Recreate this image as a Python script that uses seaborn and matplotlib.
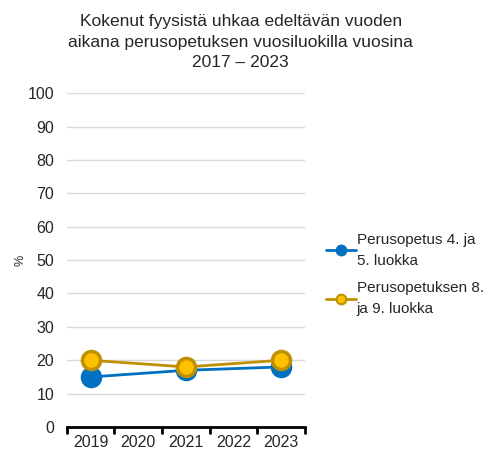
import numpy as np
import pandas as pd
import seaborn as sns
import matplotlib.pyplot as plt
from matplotlib.lines import Line2D

# --- data ---
years = ['2019', '2020', '2021', '2022', '2023']
data_years = ['2019', '2021', '2023']
grade_4_5 = [15, 17, 18]
grade_8_9 = [20, 18, 20]
series_names = ['Perusopetus 4. ja\n5. luokka', 'Perusopetuksen 8.\nja 9. luokka']

title = 'Kokenut fyysistä uhkaa edeltävän vuoden\naikana perusopetuksen vuosiluokilla vuosina\n2017 – 2023'

sns.set_theme(style='white')
plt.rcParams['font.family'] = ['Liberation Sans', 'DejaVu Sans']

df = pd.DataFrame({
    'year': data_years * 2,
    'value': grade_4_5 + grade_8_9,
    'series': [series_names[0]] * 3 + [series_names[1]] * 3,
})
df['pos'] = df['year'].map({y: i for i, y in enumerate(years)})

fig = plt.figure(figsize=(4.91, 4.5), dpi=100)
ax = fig.add_axes([0.136, 0.051, 0.485, 0.742])

styles = {
    series_names[0]: dict(color='#0070C0', mfc='#0070C0', mec='#0070C0'),
    series_names[1]: dict(color='#BF9000', mfc='#FFC000', mec='#BF9000'),
}

for name in series_names:
    sub = df[df['series'] == name]
    st = styles[name]
    sns.lineplot(data=sub, x='pos', y='value', ax=ax, color=st['color'],
                 linewidth=2, marker='o', markersize=13,
                 markerfacecolor=st['mfc'], markeredgecolor=st['mec'],
                 markeredgewidth=2.5, legend=False)

ax.set_ylim(0, 100)
ax.set_yticks(np.arange(0, 101, 10))
ax.set_xlim(-0.5, len(years) - 0.5)
ax.set_xticks(range(len(years)))
ax.set_xticklabels(years)
ax.set_xticks(np.arange(-0.5, len(years), 1), minor=True)
ax.tick_params(axis='x', which='major', length=0, labelsize=11.5, pad=6)
ax.tick_params(axis='x', which='minor', bottom=True, length=5, width=2,
               color='black', direction='out')
ax.tick_params(axis='y', length=0, labelsize=11.5, pad=9)
ax.yaxis.grid(True, color='#D9D9D9', linewidth=1)
ax.set_axisbelow(True)
for s in ['top', 'right', 'left']:
    ax.spines[s].set_visible(False)
ax.spines['bottom'].set_color('black')
ax.spines['bottom'].set_linewidth(2)
ax.set_xlabel('')
ax.set_ylabel('%', fontsize=9)
ax.yaxis.set_label_coords(-0.17, 0.5)

fig.suptitle(title, x=0.49, y=0.968, fontsize=12.5, linespacing=1.45)

handles = [Line2D([0], [0], color=styles[n]['color'], linewidth=2, marker='o', markersize=7,
                  markerfacecolor=styles[n]['mfc'], markeredgecolor=styles[n]['mec'],
                  markeredgewidth=1.5) for n in series_names]
leg = fig.legend(handles, series_names, loc='center left', bbox_to_anchor=(0.635, 0.39),
                 frameon=False, fontsize=11, handlelength=2.0, handletextpad=0.05,
                 labelspacing=0.9)
for t in leg.get_texts():
    t.set_linespacing(1.6)

fig.savefig('out.png', dpi=100)
